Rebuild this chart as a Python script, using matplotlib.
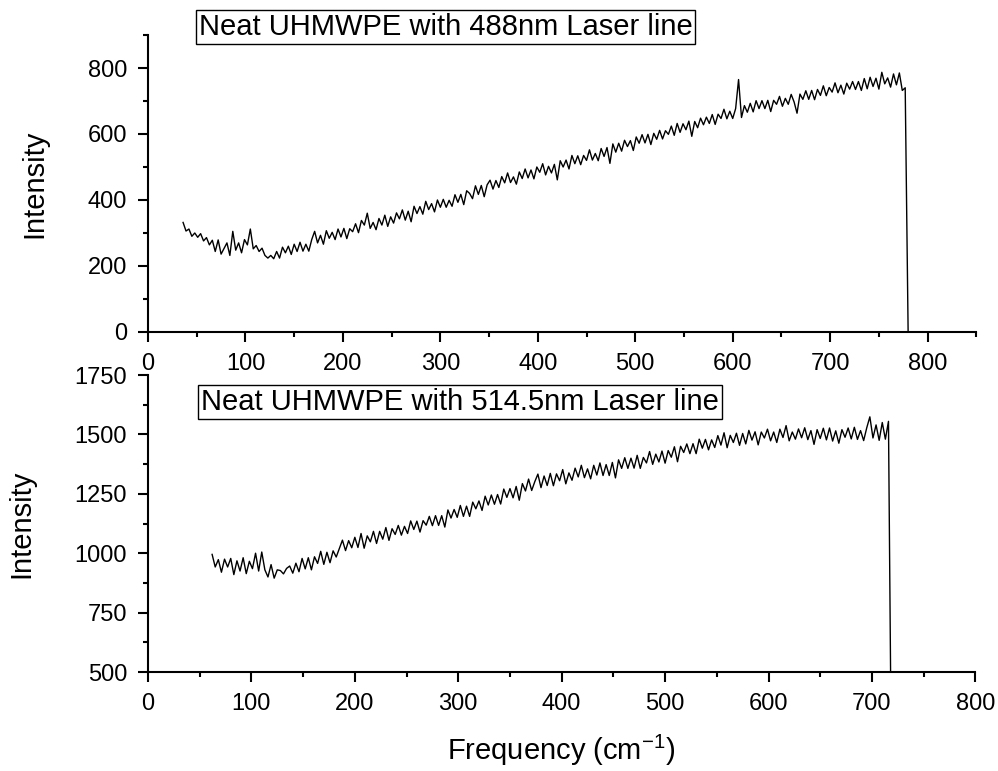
import numpy as np
import matplotlib
matplotlib.use("Agg")
import matplotlib.pyplot as plt
from matplotlib.ticker import MultipleLocator

plt.rcParams['font.family'] = ['Liberation Sans', 'DejaVu Sans']
plt.rcParams['mathtext.default'] = 'regular'

# Espectro 488 nm (muestreo cada 3 cm-1 desde 36 cm-1)
x0_488 = 36
paso_488 = 3
int_488 = [332, 306, 312, 290, 300, 287, 298, 276, 286,
           264, 278, 244, 279, 236, 253, 270, 232, 305,
           248, 270, 240, 280, 264, 312, 252, 262, 244,
           254, 232, 224, 232, 222, 244, 224, 257, 240,
           260, 235, 266, 244, 272, 245, 266, 245, 280,
           305, 270, 293, 266, 307, 284, 302, 280, 312,
           288, 314, 283, 313, 304, 328, 301, 338, 324,
           360, 314, 332, 310, 344, 324, 354, 320, 349,
           330, 361, 343, 370, 339, 366, 334, 381, 359,
           380, 357, 396, 371, 389, 364, 400, 378, 402,
           378, 399, 381, 416, 393, 417, 386, 428, 420,
           404, 443, 417, 444, 410, 446, 460, 433, 459,
           438, 471, 452, 482, 453, 470, 448, 485, 465,
           494, 467, 491, 464, 500, 484, 510, 476, 502,
           482, 508, 461, 519, 500, 521, 494, 535, 510,
           534, 507, 535, 520, 552, 521, 541, 519, 556,
           532, 559, 511, 570, 545, 572, 548, 581, 562,
           580, 550, 591, 572, 598, 573, 599, 568, 602,
           584, 611, 585, 610, 599, 624, 596, 632, 605,
           631, 613, 639, 593, 638, 619, 648, 628, 651,
           632, 659, 629, 660, 647, 675, 646, 669, 647,
           677, 765, 650, 686, 666, 693, 667, 701, 677,
           701, 677, 702, 668, 702, 690, 714, 684, 708,
           690, 720, 697, 663, 721, 705, 731, 705, 732,
           704, 735, 717, 746, 716, 741, 727, 755, 725,
           748, 721, 754, 736, 759, 735, 759, 732, 768,
           737, 772, 744, 769, 736, 787, 752, 770, 742,
           782, 749, 785, 732, 740, 0]

# Espectro 514.5 nm (muestreo cada 3 cm-1 desde 62 cm-1)
x0_514 = 62
paso_514 = 3
int_514 = [995, 942, 973, 920, 975, 942, 978, 910, 968,
           925, 981, 914, 966, 935, 1000, 925, 1005, 930,
           900, 952, 895, 930, 927, 913, 936, 946, 916,
           958, 922, 978, 934, 981, 930, 985, 957, 1008,
           953, 1004, 960, 1010, 984, 1020, 1055, 1011, 1053,
           1023, 1067, 1024, 1083, 1021, 1073, 1048, 1092, 1041,
           1092, 1059, 1108, 1054, 1103, 1079, 1117, 1076, 1113,
           1083, 1136, 1100, 1135, 1089, 1137, 1118, 1155, 1116,
           1158, 1117, 1158, 1110, 1182, 1148, 1184, 1151, 1201,
           1155, 1198, 1155, 1215, 1187, 1220, 1180, 1240, 1203,
           1245, 1206, 1247, 1207, 1270, 1235, 1272, 1233, 1281,
           1223, 1293, 1262, 1312, 1264, 1301, 1333, 1276, 1325,
           1285, 1336, 1284, 1334, 1305, 1352, 1292, 1338, 1307,
           1358, 1321, 1370, 1318, 1355, 1313, 1370, 1329, 1380,
           1327, 1373, 1327, 1382, 1317, 1393, 1357, 1402, 1357,
           1400, 1358, 1412, 1357, 1403, 1380, 1428, 1374, 1417,
           1384, 1430, 1379, 1432, 1404, 1448, 1385, 1450, 1424,
           1460, 1419, 1461, 1419, 1480, 1442, 1479, 1435, 1477,
           1445, 1495, 1455, 1507, 1444, 1496, 1466, 1505, 1454,
           1504, 1460, 1517, 1476, 1511, 1456, 1510, 1485, 1522,
           1473, 1510, 1466, 1522, 1487, 1537, 1473, 1510, 1480,
           1523, 1486, 1528, 1478, 1516, 1458, 1520, 1483, 1526,
           1477, 1527, 1472, 1515, 1463, 1520, 1488, 1527, 1481,
           1530, 1479, 1516, 1474, 1528, 1574, 1485, 1540, 1475,
           1550, 1480, 1555, 0]

freq_488 = x0_488 + paso_488 * np.arange(len(int_488))
freq_514 = x0_514 + paso_514 * np.arange(len(int_514))

titulos = ['Neat UHMWPE with 488nm Laser line', 'Neat UHMWPE with 514.5nm Laser line']

fig = plt.figure(figsize=(9.98, 7.71), dpi=100)
ax1 = fig.add_axes([0.1483, 0.5694, 0.830, 0.3852])
ax2 = fig.add_axes([0.1483, 0.1284, 0.829, 0.3852])

ax1.plot(freq_488, int_488, color='black', linewidth=1.0)
ax2.plot(freq_514, int_514, color='black', linewidth=1.0)

ax1.set_xlim(0, 850)
ax1.set_ylim(0, 900)
ax1.xaxis.set_major_locator(MultipleLocator(100))
ax1.xaxis.set_minor_locator(MultipleLocator(50))
ax1.yaxis.set_major_locator(MultipleLocator(200))
ax1.yaxis.set_minor_locator(MultipleLocator(100))

ax2.set_xlim(0, 800)
ax2.set_ylim(500, 1750)
ax2.xaxis.set_major_locator(MultipleLocator(100))
ax2.xaxis.set_minor_locator(MultipleLocator(50))
ax2.yaxis.set_major_locator(MultipleLocator(250))
ax2.yaxis.set_minor_locator(MultipleLocator(125))

for ax in (ax1, ax2):
    ax.spines['top'].set_visible(False)
    ax.spines['right'].set_visible(False)
    ax.spines['left'].set_linewidth(1.5)
    ax.spines['bottom'].set_linewidth(1.5)
    ax.tick_params(which='major', direction='out', length=7, width=1.5, labelsize=17, pad=8)
    ax.tick_params(which='minor', direction='out', length=3.6, width=1.5)
    ax.set_ylabel('Intensity', fontsize=21, labelpad=28)

ax2.set_xlabel('Frequency (cm$^{-1}$)', fontsize=21, labelpad=13)

# Recuadros con el título de cada espectro
fig.text(0.4464, 0.9654, titulos[0], fontsize=21, ha='center', va='center',
         bbox=dict(boxstyle='square,pad=0.1', facecolor='white', edgecolor='black', linewidth=1))
fig.text(0.4609, 0.4789, titulos[1], fontsize=21, ha='center', va='center',
         bbox=dict(boxstyle='square,pad=0.1', facecolor='white', edgecolor='black', linewidth=1))

fig.savefig('out.png', dpi=100)
